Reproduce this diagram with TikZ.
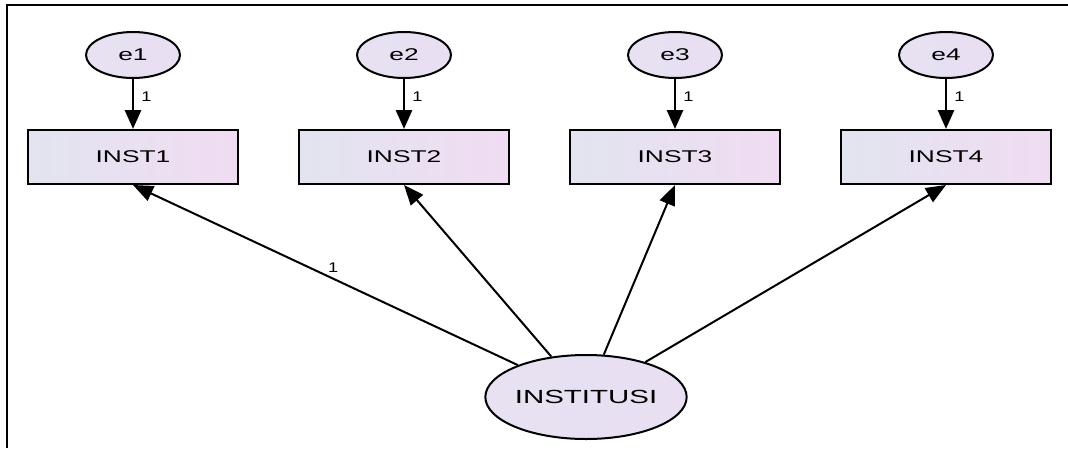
\documentclass[tikz,border=0pt]{standalone}
\usepackage{fontspec}
\usepackage{graphicx}
\setmainfont{Liberation Sans}
\usetikzlibrary{shapes.geometric,arrows.meta}

% wide lettering used throughout the model drawing
\newcommand{\widetext}[2]{{\fontsize{#1}{#1}\selectfont\scalebox{1.55}[1]{#2}}}

\definecolor{varleft}{RGB}{226,228,240}
\definecolor{varright}{RGB}{240,220,242}
\definecolor{latfill}{RGB}{232,224,242}

\tikzset{
  obsvar/.style={rectangle, draw=black, line width=2pt,
    minimum width=210pt, minimum height=54pt, inner sep=0pt,
    left color=varleft, right color=varright},
  errvar/.style={ellipse, draw=black, line width=2pt,
    minimum width=94pt, minimum height=46pt, inner sep=0pt,
    left color=latfill!80!varleft, right color=latfill},
  latvar/.style={ellipse, draw=black, line width=2pt,
    minimum width=176pt, minimum height=84pt, inner sep=0pt,
    left color=latfill!80!varleft, right color=latfill},
  errpath/.style={draw, line width=2.8pt,
    -{Triangle[length=19pt,width=16pt]}},
  loadpath/.style={draw, line width=2pt,
    -{Triangle[length=20pt,width=16pt]}},
  weight/.style={inner sep=1pt, font=\fontsize{14}{14}\selectfont},
  frameline/.style={line width=2.5pt, black}
}

\begin{document}
\begin{tikzpicture}[x=1pt,y=-1pt]
  \useasboundingbox (0,0) rectangle (1068,448);
  \fill[white] (0,0) rectangle (1068,448);

  % frame: top and left edges
  \draw[frameline] (7,448) -- (7,5) -- (1068,5);

  % observed indicators
  \node[obsvar] (r1) at (133,157) {\widetext{17}{INST1}};
  \node[obsvar] (r2) at (404,157) {\widetext{17}{INST2}};
  \node[obsvar] (r3) at (675,157) {\widetext{17}{INST3}};
  \node[obsvar] (r4) at (946,157) {\widetext{17}{INST4}};

  % error terms
  \node[errvar] (e1) at (133,55) {\widetext{17}{e1}};
  \node[errvar] (e2) at (404,55) {\widetext{17}{e2}};
  \node[errvar] (e3) at (675,55) {\widetext{17}{e3}};
  \node[errvar] (e4) at (946,55) {\widetext{17}{e4}};

  % latent construct
  \node[latvar] (lat) at (586,397) {\widetext{19}{INSTITUSI}};

  % error paths with fixed weights
  \foreach \i in {1,2,3,4} {
    \path[errpath] (e\i) -- (r\i)
      node[weight, pos=0.36, anchor=west, xshift=6pt] {\scalebox{1.3}[1]{1}};
  }

  % factor loadings
  \path[loadpath] (lat) -- (r1.south)
    node[weight, pos=0.48, anchor=south, yshift=4pt] {\scalebox{1.3}[1]{1}};
  \path[loadpath] (lat) -- (r2.south);
  \path[loadpath] (lat) -- (r3.south);
  \path[loadpath] (lat) -- (r4.south);
\end{tikzpicture}
\end{document}
